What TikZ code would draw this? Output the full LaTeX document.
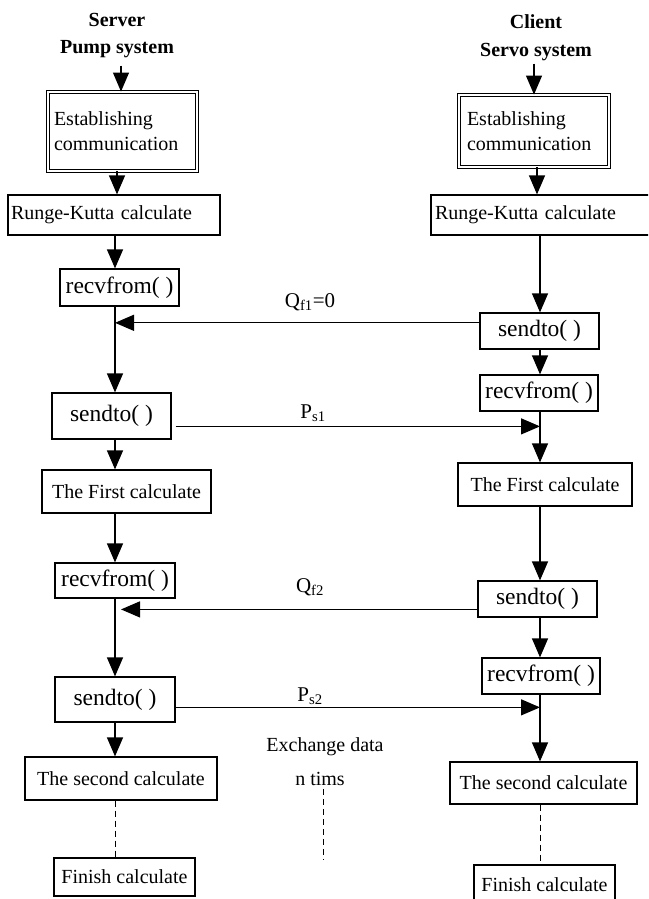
\documentclass[tikz,border=0pt]{standalone}
\usepackage{fontspec}
\setmainfont{Liberation Serif}
\usetikzlibrary{arrows.meta,calc}
\newcommand{\fsz}[1]{\fontsize{#1}{#1}\selectfont}
\tikzset{
  box/.style={draw, line width=1.2pt, rectangle, inner sep=0pt, font=\fsz{20}},
  fbox/.style={box, font=\fsz{23.5}},
  lbox/.style={box, align=left},
  dbox/.style={draw, double, double distance=2pt, line width=0.9pt, rectangle, inner sep=0pt, font=\fsz{20}, align=left},
  ttl/.style={font=\fsz{20}\bfseries, inner sep=1pt},
  lbl/.style={font=\fsz{21}, inner sep=1pt},
  arr/.style={line width=1.2pt, -{Triangle[length=19pt,width=16pt]}},
  ln/.style={line width=1.2pt},
  dsh/.style={line width=1pt, dash pattern=on 6pt off 4pt}
}
\begin{document}
\begin{tikzpicture}[x=1pt,y=-1pt]
\useasboundingbox (0,0) rectangle (648,899);
\clip (0,0) rectangle (648,899);
\coordinate (Lx) at (115,0);
\coordinate (Rx) at (540,0);
% titles
\node[ttl] (tL1) at (117,20) {Server};
\node[ttl] (tL2) at (117,49) {Pump system};
\node[ttl] (tR1) at (536,22) {Client};
\node[ttl] (tR2) at (536,52) {Servo system};
% left column
\node[dbox, minimum width=149pt, minimum height=79pt, text width=137pt] (estL) at (122.5,131.5) {Establishing\\[5pt]communication};
\node[lbox, minimum width=212pt, minimum height=40pt, text width=206pt] (rkL) at (114,215) {Runge-Kutta calculate};
\node[fbox, minimum width=119pt, minimum height=37pt] (recvL1) at (119.5,287.5) {recvfrom( )};
\node[fbox, minimum width=119pt, minimum height=46pt] (sendL1) at (111.5,416) {sendto( )};
\node[box, minimum width=169pt, minimum height=43pt] (firstL) at (126.5,491.5) {The First calculate};
\node[fbox, minimum width=120pt, minimum height=35pt] (recvL2) at (115,580.5) {recvfrom( )};
\node[fbox, minimum width=120pt, minimum height=45pt] (sendL2) at (115,699.5) {sendto( )};
\node[box, minimum width=192pt, minimum height=43pt] (secL) at (121,778.5) {The second calculate};
\node[box, minimum width=141pt, minimum height=38pt] (finL) at (124.5,877) {Finish calculate};
% right column
\node[dbox, minimum width=150pt, minimum height=72pt, text width=134pt] (estR) at (534,131) {Establishing\\[5pt]communication};
\node[lbox, minimum width=219pt, minimum height=40pt, text width=211pt] (rkR) at (540.5,215) {Runge-Kutta calculate};
\node[fbox, minimum width=119pt, minimum height=36pt] (sendR1) at (539.5,331) {sendto( )};
\node[fbox, minimum width=118pt, minimum height=36pt] (recvR1) at (539,393) {recvfrom( )};
\node[box, minimum width=174pt, minimum height=43pt] (firstR) at (545,484.5) {The First calculate};
\node[fbox, minimum width=119pt, minimum height=36pt] (sendR2) at (537.5,599) {sendto( )};
\node[fbox, minimum width=118pt, minimum height=36pt] (recvR2) at (541,676) {recvfrom( )};
\node[box, minimum width=187pt, minimum height=42pt] (secR) at (543.5,783) {The second calculate};
\node[box, minimum width=141pt, minimum height=40pt] (finR) at (544.5,885) {Finish calculate};
% middle
\node[lbl, font=\fsz{20}] (exch) at (325,747) {Exchange data};
\node[lbl, font=\fsz{20}] (ntims) at (320,779) {n tims};
\coordinate (dEnd) at (323,860);
% left vertical connectors
\draw[arr] (estL.north -| 121,0) ++(0,-26) coordinate (sL) -- (sL |- estL.north);
\draw[arr] (estL.south -| Lx) ++(2,0) -- ($(rkL.north -| Lx)+(2,0)$);
\draw[arr] (rkL.south -| Lx) -- (recvL1.north -| Lx);
\draw[arr] (recvL1.south -| Lx) -- (sendL1.north -| Lx);
\draw[arr] (sendL1.south -| Lx) -- (firstL.north -| Lx);
\draw[arr] (firstL.south -| Lx) -- (recvL2.north -| Lx);
\draw[arr] (recvL2.south -| Lx) -- (sendL2.north -| Lx);
\draw[arr] (sendL2.south -| Lx) -- (secL.north -| Lx);
\draw[dsh] (secL.south -| Lx) -- (finL.north -| Lx);
% right vertical connectors
\draw[arr] (estR.north) ++(0,-31) coordinate (sR) -- (estR.north);
\draw[arr] (estR.south -| Rx) ++(-3,0) -- ($(rkR.north -| Rx)+(-3,0)$);
\draw[arr] (rkR.south -| Rx) -- (sendR1.north -| Rx);
\draw[arr] (sendR1.south -| Rx) -- (recvR1.north -| Rx);
\draw[arr] (recvR1.south -| Rx) -- (firstR.north -| Rx);
\draw[arr] (firstR.south -| Rx) -- (sendR2.north -| Rx);
\draw[arr] (sendR2.south -| Rx) -- (recvR2.north -| Rx);
\draw[arr] (recvR2.south -| Rx) -- (secR.north -| Rx);
\draw[dsh] (secR.south -| Rx) -- (finR.north -| Rx);
% horizontal exchanges
\coordinate (q1) at ($(sendR1.north west)!0.28!(sendR1.south west)$);
\draw[arr] (q1) -- (q1 -| Lx);
\coordinate (p1) at ($(sendL1.north east)!0.72!(sendL1.south east)+(4,0)$);
\draw[arr] (p1) -- (p1 -| Rx);
\coordinate (q2) at ($(sendR2.north west)!0.78!(sendR2.south west)$);
\draw[arr] (q2) -- ($(q2 -| Lx)+(6,0)$);
\coordinate (p2) at ($(sendL2.north east)!0.67!(sendL2.south east)$);
\draw[arr] (p2) -- (p2 -| Rx);
% labels
\node[lbl] (lq1) at (310,302) {Q\textsubscript{f1}=0};
\node[lbl] (lp1) at (313,413) {P\textsubscript{s1}};
\node[lbl] (lq2) at (310,587) {Q\textsubscript{f2}};
\node[lbl] (lp2) at (310,696) {P\textsubscript{s2}};
% middle dashed
\draw[dsh] ($(ntims.south)+(3,2)$) -- (dEnd);
\end{tikzpicture}
\end{document}
